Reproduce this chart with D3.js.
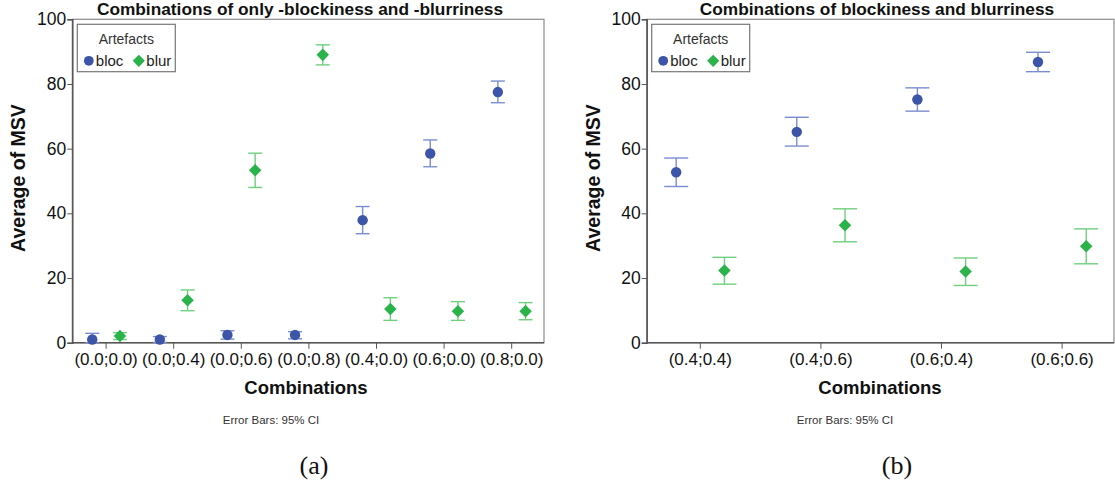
<!DOCTYPE html>
<html>
<head>
<meta charset="utf-8">
<script src="https://cdn.jsdelivr.net/npm/d3@7"></script>
<style>
  body { margin: 0; background: #fff; }
  svg text { font-family: "Liberation Sans", Arial, sans-serif; }
</style>
</head>
<body>
<svg id="fig" width="1115" height="483"></svg>
<script>
// Panel (a) data
const catsA = ['(0.0;0.0)', '(0.0;0.4)', '(0.0;0.6)', '(0.0;0.8)', '(0.4;0.0)', '(0.6;0.0)', '(0.8;0.0)'];
const blocA = [1.0, 1.0, 2.4, 2.4, 37.9, 58.5, 77.5];
const blocALo = [0.0, 0.1, 1.1, 1.2, 33.7, 54.4, 74.2];
const blocAHi = [2.9, 1.9, 3.7, 3.4, 42.1, 62.7, 80.9];
const blurA = [2.1, 13.1, 53.3, 89.0, 10.4, 9.7, 9.7];
const blurALo = [1.0, 9.9, 48.0, 85.9, 6.9, 6.9, 7.1];
const blurAHi = [3.1, 16.3, 58.6, 92.1, 13.9, 12.7, 12.4];

// Panel (b) data
const catsB = ['(0.4;0.4)', '(0.4;0.6)', '(0.6;0.4)', '(0.6;0.6)'];
const blocB = [52.7, 65.2, 75.2, 86.8];
const blocBLo = [48.3, 60.8, 71.6, 83.8];
const blocBHi = [57.1, 69.7, 78.8, 89.8];
const blurB = [22.3, 36.3, 22.0, 29.8];
const blurBLo = [18.1, 31.2, 17.7, 24.4];
const blurBHi = [26.4, 41.4, 26.2, 35.2];

const yTicks = [0, 20, 40, 60, 80, 100];
const seriesNames = ['bloc', 'blur'];

const BLUE = '#3d55a8', BLUE_LIGHT = '#7b8dd0';
const GREEN = '#2bb34b', GREEN_LIGHT = '#6fd07f';
const SANS = '"Liberation Sans", Arial, sans-serif';

const svg = d3.select('#fig');

function drawPanel(p) {
  const g = svg.append('g');
  const x = d3.scaleBand().domain(p.cats).range(p.xRange);
  const y = d3.scaleLinear().domain([0, 100]).range([342.7, 19.3]);

  // frame
  g.append('rect')
    .attr('x', p.frameL).attr('y', y(100))
    .attr('width', p.frameR - p.frameL).attr('height', y(0) - y(100))
    .attr('fill', 'none').attr('stroke', '#8c8c8c').attr('stroke-width', 1.2);

  // axes
  const yAxis = g.append('g')
    .attr('transform', `translate(${p.frameL},0)`)
    .call(d3.axisLeft(y).tickValues(yTicks).tickSize(5).tickPadding(1));
  yAxis.select('.domain').attr('stroke', '#555').attr('stroke-width', 1.5);
  yAxis.selectAll('.tick line').attr('stroke', '#555');
  yAxis.selectAll('text').attr('font-size', 17.5).attr('fill', '#111')
    .style('font-family', SANS);

  const xAxis = g.append('g')
    .attr('transform', `translate(0,${y(0)})`)
    .call(d3.axisBottom(x).tickSize(6).tickSizeOuter(0).tickPadding(4));
  xAxis.select('.domain').remove();
  g.append('line')
    .attr('x1', p.frameL).attr('x2', p.frameR)
    .attr('y1', y(0)).attr('y2', y(0))
    .attr('stroke', '#555').attr('stroke-width', 1.5);
  xAxis.selectAll('.tick line').attr('stroke', '#555');
  xAxis.selectAll('text').attr('font-size', 17).attr('fill', '#111')
    .style('font-family', SANS);

  // series
  const bw = x.bandwidth();
  const series = [
    { vals: p.bloc, lo: p.blocLo, hi: p.blocHi, off: -p.dodge, col: BLUE, light: BLUE_LIGHT, shape: 'circle' },
    { vals: p.blur, lo: p.blurLo, hi: p.blurHi, off: p.dodge, col: GREEN, light: GREEN_LIGHT, shape: 'diamond' }
  ];
  series.forEach(s => {
    const data = p.cats.map((c, i) => ({ c, v: s.vals[i], lo: s.lo[i], hi: s.hi[i] }));
    const cx = d => x(d.c) + bw / 2 + s.off * bw;
    const bars = g.append('g');
    bars.selectAll('.stem').data(data).join('line')
      .attr('x1', cx).attr('x2', cx)
      .attr('y1', d => y(d.lo)).attr('y2', d => y(d.hi))
      .attr('stroke', s.light).attr('stroke-width', 1.4);
    ['lo', 'hi'].forEach(k => {
      bars.selectAll('.cap-' + k).data(data).join('line')
        .attr('x1', d => cx(d) - p.cap / 2).attr('x2', d => cx(d) + p.cap / 2)
        .attr('y1', d => y(d[k])).attr('y2', d => y(d[k]))
        .attr('stroke', s.light).attr('stroke-width', 1.4);
    });
    const sym = s.shape === 'circle'
      ? d3.symbol().type(d3.symbolCircle).size(85)
      : d3.symbol().type(d3.symbolDiamond2).size(100);
    g.append('g').selectAll('path').data(data).join('path')
      .attr('transform', d => `translate(${cx(d)},${y(d.v)})`)
      .attr('d', sym())
      .attr('fill', s.col);
  });

  // legend
  const lg = g.append('g').attr('transform', `translate(${p.frameL + 5},24.3)`);
  lg.append('rect').attr('width', 98).attr('height', 47.4)
    .attr('fill', '#fff').attr('stroke', '#777').attr('stroke-width', 1.2);
  lg.append('text').attr('x', 49).attr('y', 20).attr('text-anchor', 'middle')
    .attr('font-size', 14).attr('fill', '#333').text('Artefacts');
  lg.append('path').attr('transform', 'translate(11.5,36.5)')
    .attr('d', d3.symbol().type(d3.symbolCircle).size(75)()).attr('fill', BLUE);
  lg.append('text').attr('x', 18.5).attr('y', 42).attr('font-size', 15).attr('fill', '#222').text(seriesNames[0]);
  lg.append('path').attr('transform', 'translate(61.5,36.5)')
    .attr('d', d3.symbol().type(d3.symbolDiamond2).size(95)()).attr('fill', GREEN);
  lg.append('text').attr('x', 69).attr('y', 42).attr('font-size', 15).attr('fill', '#222').text(seriesNames[1]);

  // titles
  g.append('text').attr('x', p.titleX).attr('y', 15).attr('text-anchor', 'middle')
    .attr('font-size', 17.3).attr('font-weight', 'bold').attr('fill', '#111').text(p.title);
  g.append('text').attr('transform', `translate(${p.yLabelX},178) rotate(-90)`)
    .attr('text-anchor', 'middle').attr('font-size', 19.5).attr('font-weight', 'bold')
    .attr('fill', '#111').text('Average of MSV');
  g.append('text').attr('x', p.xLabelX).attr('y', 394).attr('text-anchor', 'middle')
    .attr('font-size', 18.5).attr('font-weight', 'bold').attr('fill', '#111').text('Combinations');
  g.append('text').attr('x', p.noteX).attr('y', 424).attr('text-anchor', 'middle')
    .attr('font-size', 11.5).attr('fill', '#333').text('Error Bars: 95% CI');
  g.append('text').attr('x', p.capX).attr('y', 474).attr('text-anchor', 'middle')
    .attr('font-size', 26).style('font-family', '"Liberation Serif", "Times New Roman", serif')
    .attr('fill', '#111').text(p.caption);
}

drawPanel({
  cats: catsA, bloc: blocA, blocLo: blocALo, blocHi: blocAHi,
  blur: blurA, blurLo: blurALo, blurHi: blurAHi,
  xRange: [72.3, 545.5], frameL: 72.3, frameR: 544,
  dodge: 0.205, cap: 14,
  title: 'Combinations of only -blockiness and -blurriness', titleX: 300,
  yLabelX: 25, xLabelX: 306, noteX: 271, capX: 314, caption: '(a)'
});

drawPanel({
  cats: catsB, bloc: blocB, blocLo: blocBLo, blocHi: blocBHi,
  blur: blurB, blurLo: blurBLo, blurHi: blurBHi,
  xRange: [640, 1122.4], frameL: 646.7, frameR: 1114,
  dodge: 0.2, cap: 24,
  title: 'Combinations of blockiness and blurriness', titleX: 877,
  yLabelX: 600, xLabelX: 880, noteX: 845, capX: 897, caption: '(b)'
});
</script>
</body>
</html>
